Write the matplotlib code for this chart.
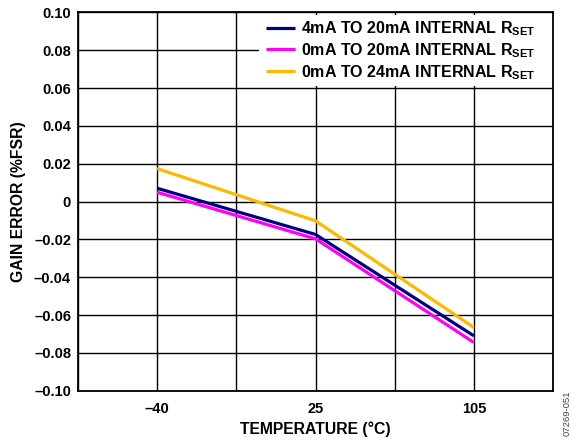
import matplotlib
matplotlib.use("Agg")
import matplotlib.pyplot as plt
from matplotlib.patches import Rectangle

plt.rcParams['font.family'] = ['Liberation Sans', 'DejaVu Sans']
plt.rcParams['font.weight'] = 'bold'
plt.rcParams['mathtext.fontset'] = 'custom'
plt.rcParams['mathtext.rm'] = 'Liberation Sans:bold'
plt.rcParams['mathtext.bf'] = 'Liberation Sans:bold'

# data
temps = ['\u201340', '25', '105']
temp_pos = [1, 3, 5]
err_4_20 = [0.0070, -0.0174, -0.0710]
err_0_20 = [0.0049, -0.0197, -0.0745]
err_0_24 = [0.0174, -0.0102, -0.0666]
series_names = [r'4mA TO 20mA INTERNAL R$_{\mathrm{SET}}$',
                r'0mA TO 20mA INTERNAL R$_{\mathrm{SET}}$',
                r'0mA TO 24mA INTERNAL R$_{\mathrm{SET}}$']
colors = ['#000080', '#FF00FF', '#FFB800']
y_ticks = [-0.10, -0.08, -0.06, -0.04, -0.02, 0, 0.02, 0.04, 0.06, 0.08, 0.10]


def fmt(v):
    if abs(v) < 1e-9:
        return '0'
    s = '%.2f' % abs(v)
    return ('\u2013' + s) if v < 0 else s


fig = plt.figure(figsize=(5.71, 4.41), dpi=100)
ax = fig.add_axes([0.1366, 0.114, 0.832, 0.858])

for vals, name, c in zip([err_4_20, err_0_20, err_0_24], series_names, colors):
    ax.plot(temp_pos, vals, color=c, lw=2.3, label=name, solid_capstyle='butt')

ax.set_xlim(0, 6)
ax.set_ylim(-0.10, 0.10)
ax.set_xticks([0, 1, 2, 3, 4, 5, 6])
ax.set_xticklabels(['', temps[0], '', temps[1], '', temps[2], ''])
ax.set_yticks(y_ticks)
ax.set_yticklabels([fmt(v) for v in y_ticks])
ax.grid(True, color='black', lw=1.0)
ax.tick_params(length=0, labelsize=10.5)
ax.tick_params(axis='x', pad=8)
ax.tick_params(axis='y', pad=5)
for sp in ax.spines.values():
    sp.set_linewidth(1.3)

ax.set_xlabel('TEMPERATURE (\u00b0C)', fontsize=11.3, fontweight='bold', labelpad=4)
ax.set_ylabel('GAIN ERROR (%FSR)', fontsize=11.3, fontweight='bold', labelpad=6)

# white box behind the legend hides the grid there
ax.add_patch(Rectangle((0.381, 0.806), 0.62, 0.187, transform=ax.transAxes,
                       facecolor='white', edgecolor='none', zorder=1.8))

leg = ax.legend(loc='upper left', bbox_to_anchor=(0.396, 0.982), fontsize=11.5,
                frameon=False, handlelength=1.8, handletextpad=0.38,
                borderaxespad=0.0, labelspacing=0.2, borderpad=0.0)
for line in leg.get_lines():
    line.set_linewidth(2.3)

fig.text(0.994, 0.063, '07269-051', rotation=90, fontsize=6.8, color='#444444',
         fontweight='normal', ha='center', va='center')

fig.savefig('out.png', dpi=100)
